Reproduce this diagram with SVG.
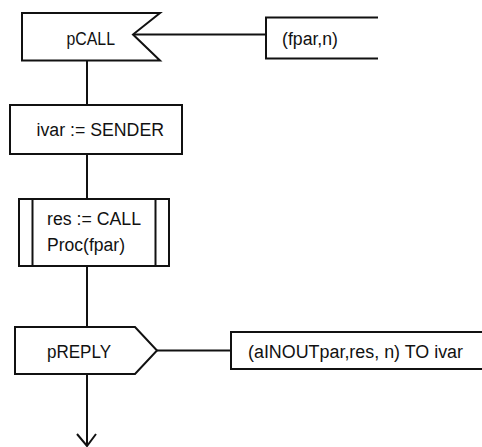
<svg xmlns="http://www.w3.org/2000/svg" width="482" height="447" viewBox="0 0 482 447">
<style>
.s{fill:#fff;stroke:#111;stroke-width:2;stroke-linejoin:miter}
.l{fill:none;stroke:#111;stroke-width:2}
text{font-family:"Liberation Sans",Arial,sans-serif;font-size:18px;fill:#111}
</style>
<rect width="482" height="447" fill="#fff"/>
<g id="connectors">
<line class="l" x1="87" y1="60" x2="87" y2="105"/>
<line class="l" x1="87" y1="154" x2="87" y2="199"/>
<line class="l" x1="87" y1="266" x2="87" y2="327"/>
<line class="l" x1="87" y1="374" x2="87" y2="446"/>
<polyline class="l" points="77,434 87,446 96,434"/>
<line class="l" x1="133" y1="34.5" x2="266" y2="34.5"/>
<line class="l" x1="157" y1="350.5" x2="231" y2="350.5"/>
</g>
<g id="pCALL">
<polygon class="s" points="22,13 160,13 133,34.5 160,60.5 22,60.5"/>
<text x="66.5" y="45" textLength="48.5" lengthAdjust="spacingAndGlyphs">pCALL</text>
</g>
<g id="comment1">
<polyline class="l" points="378,17.5 266,17.5 266,58.5 378,58.5"/>
<text x="282" y="45" textLength="56" lengthAdjust="spacingAndGlyphs">(fpar,n)</text>
</g>
<g id="ivar">
<rect class="s" x="10" y="105" width="172" height="49"/>
<text x="36.5" y="136" textLength="127.5" lengthAdjust="spacingAndGlyphs">ivar := SENDER</text>
</g>
<g id="proc">
<rect class="s" x="19" y="199" width="150" height="67"/>
<line class="l" x1="32.5" y1="199" x2="32.5" y2="266"/>
<line class="l" x1="155.5" y1="199" x2="155.5" y2="266"/>
<text x="47" y="225" textLength="94" lengthAdjust="spacingAndGlyphs">res := CALL</text>
<text x="47" y="251" textLength="78" lengthAdjust="spacingAndGlyphs">Proc(fpar)</text>
</g>
<g id="pREPLY">
<polygon class="s" points="15,327 135,327 157,350.5 135,374 15,374"/>
<text x="47" y="358" textLength="64" lengthAdjust="spacingAndGlyphs">pREPLY</text>
</g>
<g id="comment2">
<polyline class="l" points="483,332 231,332 231,369 483,369"/>
<text x="248" y="358" textLength="215" lengthAdjust="spacingAndGlyphs">(aINOUTpar,res, n) TO ivar</text>
</g>
</svg>
